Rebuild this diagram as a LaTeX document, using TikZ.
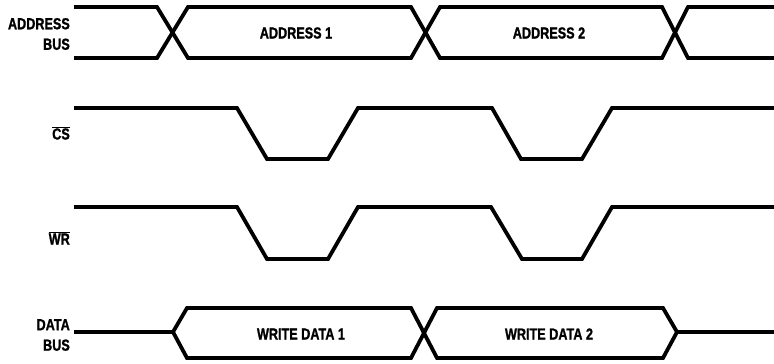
\documentclass[tikz,border=0pt]{standalone}
\usepackage{fontspec}
\setmainfont{Liberation Sans}[FakeStretch=0.79,BoldFeatures={FakeBold=1.2}]
\begin{document}
\begin{tikzpicture}[x=1pt,y=-1pt,
  sig/.style={line width=3.8pt,line join=miter},
  dsig/.style={line width=3.2pt,line join=miter},
  lbl/.style={font=\fontsize{16}{20.5}\selectfont\bfseries,align=right,anchor=east,inner sep=0pt},
  txt/.style={font=\fontsize{16}{18}\selectfont\bfseries,inner sep=0pt}]
\useasboundingbox (0,0) rectangle (774,364);
% labels
\node[lbl] (addr) at (70,34) {ADDRESS\\BUS};
\node[lbl] (cs) at (70,133) {$\overline{\hbox{CS}}$};
\node[lbl] (wr) at (70,238) {$\overline{\hbox{WR}}$};
\node[lbl] (data) at (70,335) {DATA\\BUS};
% address bus
\draw[sig] (74,7) -- (157,7) -- (188,58) -- (411,58) -- (440,7) -- (662,7) -- (688,58) -- (774,58);
\draw[sig] (74,58) -- (157,58) -- (188,7) -- (411,7) -- (440,58) -- (662,58) -- (688,7) -- (774,7);
\node[txt] (a1) at (296,33) {ADDRESS 1};
\node[txt] (a2) at (549,33) {ADDRESS 2};
% CS
\draw[sig] (74,108) -- (237,108) -- (267,159) -- (328,159) -- (358,108) -- (492,108) -- (521,159) -- (582,159) -- (612,108) -- (774,108);
% WR
\draw[sig] (74,207) -- (237,207) -- (267,259) -- (328,259) -- (358,207) -- (491,207) -- (522,259) -- (582,259) -- (612,207) -- (774,207);
% data bus
\draw[dsig] (74,332) -- (174,332);
\draw[sig] (173,332) -- (187,308) -- (411,308) -- (437,358) -- (663,358) -- (677,332);
\draw[sig] (173,332) -- (187,358) -- (411,358) -- (437,308) -- (663,308) -- (677,332);
\draw[dsig] (676,332) -- (774,332);
\node[txt] (d1) at (301,334) {WRITE DATA 1};
\node[txt] (d2) at (549,334) {WRITE DATA 2};
\end{tikzpicture}
\end{document}
